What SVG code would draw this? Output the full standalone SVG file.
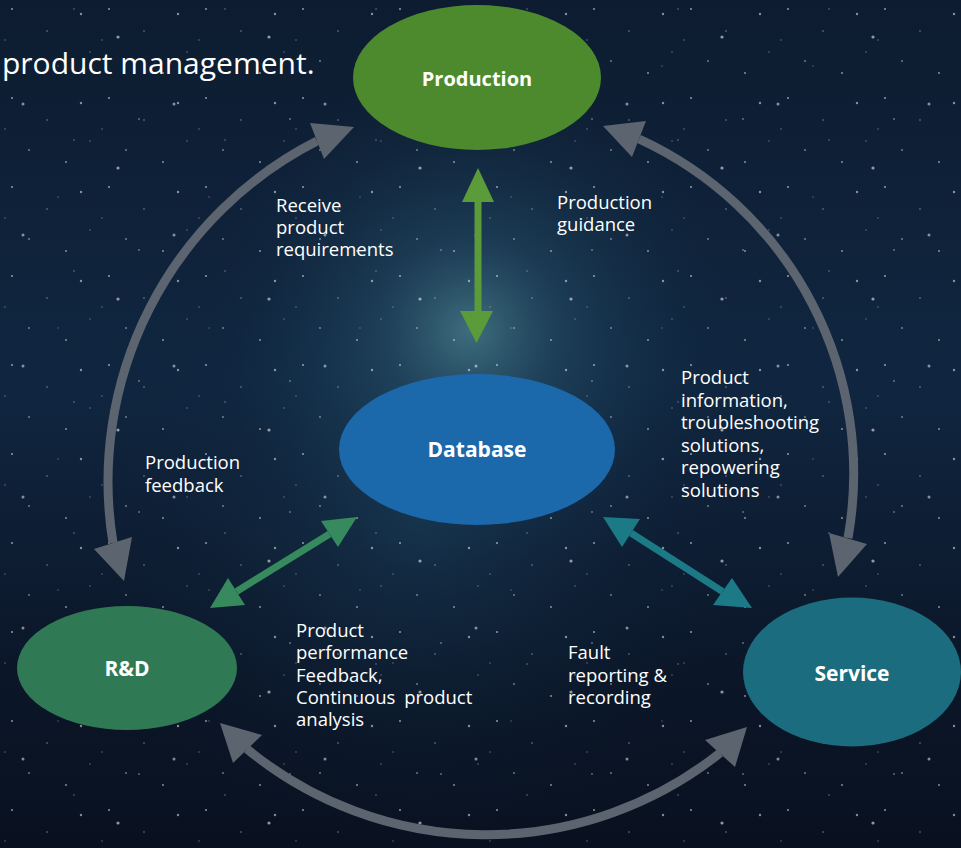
<svg xmlns="http://www.w3.org/2000/svg" width="961" height="848" viewBox="0 0 961 848">
<defs>
<linearGradient id="bg" x1="0" y1="0" x2="0" y2="1">
<stop offset="0" stop-color="#0d1c30"/>
<stop offset="0.45" stop-color="#102640"/>
<stop offset="0.8" stop-color="#0b1628"/>
<stop offset="1" stop-color="#091120"/>
</linearGradient>
<radialGradient id="glow" cx="470" cy="330" r="260" gradientUnits="userSpaceOnUse">
<stop offset="0" stop-color="#4f8592" stop-opacity="0.75"/>
<stop offset="0.35" stop-color="#2b5a72" stop-opacity="0.45"/>
<stop offset="1" stop-color="#12304a" stop-opacity="0"/>
</radialGradient>
<radialGradient id="glow2" cx="420" cy="520" r="330" gradientUnits="userSpaceOnUse">
<stop offset="0" stop-color="#1d4560" stop-opacity="0.5"/>
<stop offset="1" stop-color="#0d2036" stop-opacity="0"/>
</radialGradient>
<pattern id="stars1" width="97" height="89" patternUnits="userSpaceOnUse">
<circle cx="12" cy="9" r="1" fill="#ffffff" opacity="0.55"/>
<circle cx="47" cy="31" r="0.8" fill="#ffffff" opacity="0.45"/>
<circle cx="81" cy="14" r="1.2" fill="#ffffff" opacity="0.5"/>
<circle cx="29" cy="61" r="0.9" fill="#ffffff" opacity="0.45"/>
<circle cx="66" cy="73" r="1" fill="#ffffff" opacity="0.5"/>
<circle cx="90" cy="52" r="0.7" fill="#ffffff" opacity="0.4"/>
<circle cx="5" cy="40" r="0.7" fill="#ffffff" opacity="0.4"/>
</pattern>
<pattern id="stars2" width="151" height="131" patternUnits="userSpaceOnUse">
<circle cx="23" cy="104" r="1.5" fill="#ffffff" opacity="0.5"/>
<circle cx="118" cy="37" r="1.6" fill="#ffffff" opacity="0.55"/>
<circle cx="74" cy="9" r="0.8" fill="#cfe0ff" opacity="0.45"/>
<circle cx="139" cy="119" r="0.9" fill="#cfe0ff" opacity="0.45"/>
<circle cx="58" cy="66" r="0.7" fill="#ffffff" opacity="0.35"/>
</pattern>
<style>
.node-text{font-family:"Open Sans","Noto Sans","Liberation Sans",sans-serif;font-weight:bold;fill:#ffffff;text-anchor:middle}
.lbl{font-family:"Open Sans","Noto Sans","Liberation Sans",sans-serif;font-size:18.5px;fill:#ffffff}
.title{font-family:"Open Sans","Noto Sans","Liberation Sans",sans-serif;font-size:30px;fill:#ffffff}
.arc{fill:none;stroke:#5c6470;stroke-width:9}
.arc-head{fill:#5c6470}
</style>
</defs>

<rect x="0" y="0" width="961" height="848" fill="url(#bg)"/>
<rect x="0" y="0" width="961" height="848" fill="url(#glow2)"/>
<rect x="0" y="0" width="961" height="848" fill="url(#glow)"/>
<rect x="0" y="0" width="961" height="848" fill="url(#stars1)"/>
<rect x="0" y="0" width="961" height="848" fill="url(#stars2)"/>

<text class="title" x="2" y="74">product management.</text>

<g id="connectors">
<!-- left arc R&D <-> Production -->
<path class="arc" d="M113,543 A382,382 0 0,1 317,141"/>
<polygon class="arc-head" points="124,581 94,549 132,537"/>
<polygon class="arc-head" points="354,127 310,123 324,159"/>
<!-- right arc Production <-> Service -->
<path class="arc" d="M639,139 A368,368 0 0,1 848,538"/>
<polygon class="arc-head" points="603,126 646,121 632,157"/>
<polygon class="arc-head" points="838,577 829,533 867,544"/>
<!-- bottom arc Service <-> R&D -->
<path class="arc" d="M720,753 A376,376 0 0,1 247,749"/>
<polygon class="arc-head" points="747,727 705,740 735,767"/>
<polygon class="arc-head" points="220,723 233,763 262,735"/>
<!-- Production <-> Database -->
<g fill="#5b9b3a">
<rect x="474.5" y="200" width="7" height="113"/>
<polygon points="478,168 462,202 494,202"/>
<polygon points="476.5,343 460,311 493,311"/>
</g>
<!-- Database <-> R&D -->
<g fill="#368a5d">
<line x1="329.5" y1="534" x2="236.5" y2="591.5" stroke="#368a5d" stroke-width="7"/>
<polygon points="357,517 321,521 338,547"/>
<polygon points="210,608 228,578 245,605"/>
</g>
<!-- Database <-> Service -->
<g fill="#1b7a86">
<line x1="631" y1="533" x2="722.5" y2="591.5" stroke="#1b7a86" stroke-width="7"/>
<polygon points="603,517 640,519 622,547"/>
<polygon points="752,608 713,605 732,578"/>
</g>
</g>

<g id="node-production">
<ellipse cx="477" cy="77.5" rx="124" ry="72.5" fill="#4d8a2d"/>
<text class="node-text" x="477" y="86" font-size="20">Production</text>
</g>
<g id="node-database">
<ellipse cx="477" cy="449.5" rx="138" ry="75.5" fill="#1b68ab"/>
<text class="node-text" x="477" y="457" font-size="21">Database</text>
</g>
<g id="node-rd">
<ellipse cx="127" cy="668" rx="110" ry="62" fill="#2f7a55"/>
<text class="node-text" x="127" y="676" font-size="21">R&amp;D</text>
</g>
<g id="node-service">
<ellipse cx="852" cy="672" rx="109" ry="74.5" fill="#1b6c7e"/>
<text class="node-text" x="852" y="681" font-size="21">Service</text>
</g>

<g id="labels">
<text class="lbl" x="276" y="212">Receive<tspan x="276" y="234">product</tspan><tspan x="276" y="256">requirements</tspan></text>
<text class="lbl" x="557" y="209">Production<tspan x="557" y="231">guidance</tspan></text>
<text class="lbl" x="145" y="469">Production<tspan x="145" y="491.5">feedback</tspan></text>
<text class="lbl" x="681" y="384">Product<tspan x="681" y="406.5">information,</tspan><tspan x="681" y="429">troubleshooting</tspan><tspan x="681" y="451.5">solutions,</tspan><tspan x="681" y="474">repowering</tspan><tspan x="681" y="496.5">solutions</tspan></text>
<text class="lbl" x="296" y="637">Product<tspan x="296" y="659">performance</tspan><tspan x="296" y="681.5">Feedback,</tspan><tspan x="296" y="704" word-spacing="4">Continuous product</tspan><tspan x="296" y="726">analysis</tspan></text>
<text class="lbl" x="568" y="659">Fault<tspan x="568" y="681.5">reporting &amp;</tspan><tspan x="568" y="704">recording</tspan></text>
</g>
</svg>
